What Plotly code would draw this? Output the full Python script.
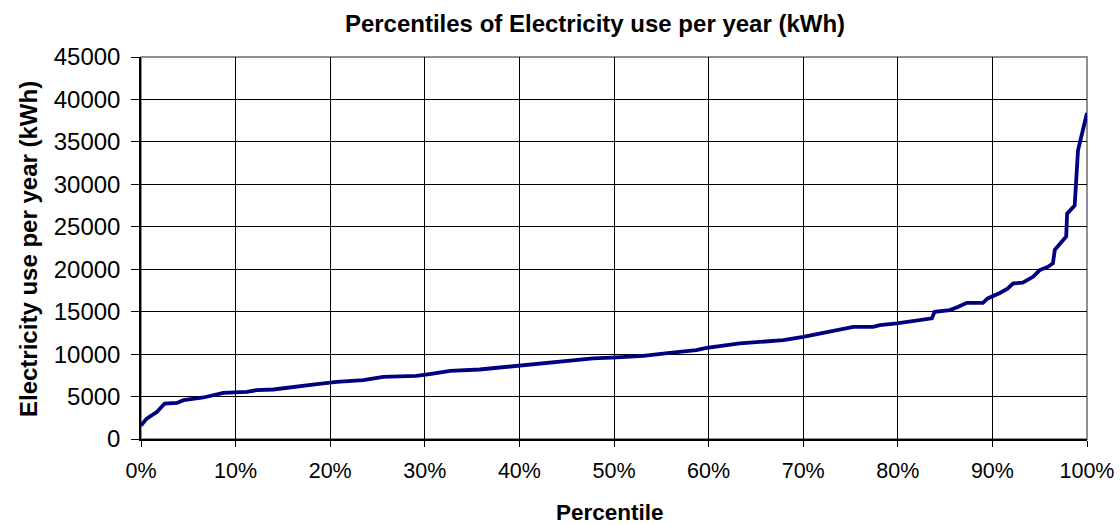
import plotly.graph_objects as go

# Percentile (%) and electricity use (kWh)
percentile = [0, 0.6, 1.7, 2.5, 3.8, 4.5, 6.6, 8.7, 11.2, 12.2, 14, 16.5, 18.6, 20.7,
              23.5, 25.6, 29.1, 30.5, 32.7, 35.8, 38.7, 40.8, 42.9, 45.7, 47.8, 50.3,
              53.1, 55.9, 58.7, 59.8, 61.5, 63.3, 65.4, 67.9, 70, 72.1, 73.9, 75.3,
              77.4, 78.1, 79.9, 82.3, 83.6, 83.9, 85.5, 86.4, 87.3, 89, 89.5, 90.8,
              91.6, 92.2, 93.2, 94.3, 95, 95.9, 96.4, 96.6, 96.8, 97.1, 97.8, 97.9,
              98.7, 99.05, 100]
kwh = [1600, 2400, 3200, 4180, 4250, 4570, 4890, 5430, 5550, 5750, 5830, 6220, 6460, 6730,
       6930, 7320, 7440, 7650, 8030, 8190, 8500, 8780, 9020, 9290, 9490, 9610,
       9800, 10150, 10470, 10740, 11020, 11260, 11440, 11640, 12040, 12470, 12830, 13220,
       13220, 13420, 13620, 14010, 14210, 14990, 15190, 15580, 16040, 16040, 16560, 17200,
       17700, 18330, 18410, 19110, 19900, 20300, 20700, 22300, 22550, 22850, 23850, 26550,
       27500, 34000, 38400]

x_ticks = list(range(0, 101, 10))
x_labels = [f"{v}%" for v in x_ticks]
y_ticks = list(range(0, 45001, 5000))

title_text = "Percentiles of Electricity use per year (kWh)"
x_title = "Percentile"
y_title = "Electricity use per year (kWh)"

font = "Liberation Sans, Arial, sans-serif"

W, H = 1120, 525
L, R, T, B = 141, 33, 57, 86
PW, PH = W - L - R, H - T - B

fig = go.Figure()
fig.add_trace(go.Scatter(
    x=percentile, y=kwh, mode="lines",
    line=dict(color="#000080", width=3.8),
    showlegend=False, hoverinfo="skip",
))

fig.update_layout(
    width=W, height=H,
    margin=dict(l=L, r=R, t=T, b=B, autoexpand=False),
    paper_bgcolor="white", plot_bgcolor="white",
    font=dict(family=font, color="black"),
    title=dict(text=f"<b>{title_text}</b>", x=595 / W, xanchor="center",
               y=1 - 24 / H, yanchor="middle", font=dict(size=24, color="black")),
    xaxis=dict(
        range=[0, 100], tickvals=x_ticks, ticktext=x_labels,
        showgrid=True, gridcolor="black", gridwidth=1,
        showline=True, linecolor="black", linewidth=1.5,
        ticks="outside", ticklen=6, tickcolor="black", tickwidth=1,
        tickfont=dict(size=21.5, color="black"), ticklabelstandoff=5,
        zeroline=False, automargin=False,
    ),
    yaxis=dict(
        range=[0, 45000], tickvals=y_ticks, tickformat="d",
        showgrid=True, gridcolor="black", gridwidth=1,
        showline=True, linecolor="black", linewidth=1.5,
        ticks="outside", ticklen=8, tickcolor="black", tickwidth=1,
        tickfont=dict(size=24, color="black"), ticklabelstandoff=6,
        zeroline=False, automargin=False,
    ),
    annotations=[
        dict(text=f"<b>{x_title}</b>", xref="paper", yref="paper",
             x=(610 - L) / PW, y=(T + PH - 512) / PH, xanchor="center", yanchor="middle",
             showarrow=False, font=dict(size=22.5, color="black")),
        dict(text=f"<b>{y_title}</b>", xref="paper", yref="paper", textangle=-90,
             x=(28 - L) / PW, y=(T + PH - 249) / PH, xanchor="center", yanchor="middle",
             showarrow=False, font=dict(size=24, color="black")),
    ],
    shapes=[dict(type="rect", xref="paper", yref="paper", x0=0, x1=1, y0=0, y1=1,
                 line=dict(color="#909090", width=2), layer="below")],
)

fig.write_html("out.html", config={"displayModeBar": False},
               post_script="document.body.style.margin='0';")
